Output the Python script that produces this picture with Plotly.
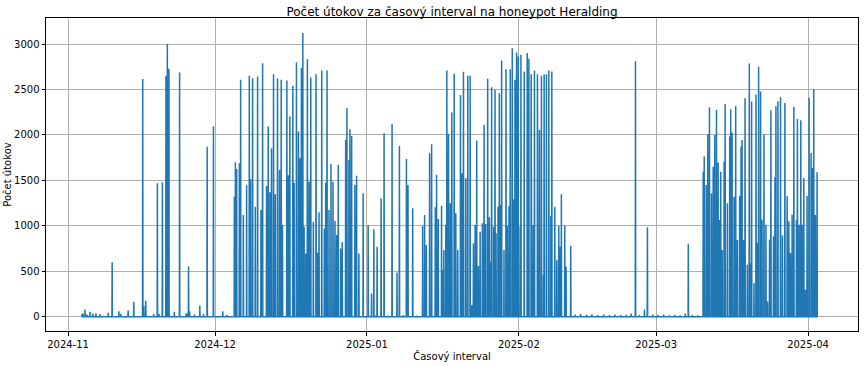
import pandas as pd
import plotly.graph_objects as go

# Time is given as days since 2024-11-01 (fractional), counts = attacks per interval
origin = "2024-11-01"

nov_day = [2.85, 3.05, 3.46, 3.86, 4.47, 5.08, 5.69, 6.5, 8.19, 9.0, 10.37, 10.77, 12.26, 13.41,
           15.24, 15.45, 15.85, 17.48, 18.23, 18.56, 19.25, 19.98, 20.26, 20.43, 20.59, 21.69,
           22.76, 24.08, 24.33, 24.59, 24.8, 25.81, 26.89, 27.64, 28.39, 29.67]
nov_count = [30, 35, 80, 25, 55, 35, 40, 30, 45, 600, 60, 30, 70, 165,
             2615, 120, 176, 30, 1468, 30, 1480, 2650, 3000, 2730, 2720, 55,
             2687, 35, 40, 554, 60, 25, 125, 30, 1869, 2096]

dec_day = [31.57, 33.94, 34.15, 34.41, 34.96, 35.22, 35.77, 36.44, 36.99, 37.26, 37.66, 38.21,
           38.68, 39.37, 39.7, 40.51, 40.85, 41.2, 41.52, 41.93, 42.28, 42.74, 43.15, 43.5,
           43.76, 44.65, 44.98, 45.26, 45.87, 46.14, 46.61, 47.01, 47.3, 47.62, 47.91, 48.17,
           48.52, 48.84, 49.19, 49.53, 50.06, 50.61, 50.96, 51.22, 51.77, 52.3, 52.58, 52.85,
           53.25, 53.66, 54.07, 54.47, 54.82, 55.14, 55.63, 55.96, 56.65, 56.91, 57.32, 57.52,
           57.87, 58.54, 58.88, 59.35, 60.22, 61.24]
dec_count = [62, 1321, 1700, 1626, 1688, 2606, 1119, 1446, 2650, 1516, 2624, 1211,
             2642, 1174, 2789, 1438, 2092, 1369, 1853, 2668, 1347, 2620, 1615, 2606,
             1009, 2598, 1556, 2202, 2540, 1475, 2800, 2037, 1743, 2734, 3120, 991,
             697, 2833, 1486, 2631, 1046, 2668, 705, 1149, 2708, 972, 1475, 2708,
             1174, 1681, 1486, 1053, 899, 1670, 752, 822, 1945, 2294, 1725, 2063,
             1989, 1450, 1552, 697, 1358, 1009]

jan_day = [61.93, 62.4, 63.07, 63.88, 64.49, 66.12, 67.13, 67.62, 69.05, 69.37, 70.33, 72.36,
           72.76, 73.11, 73.78, 74.19, 74.94, 75.2, 75.55, 76.22, 76.48, 76.69, 77.09, 77.3,
           77.64, 77.99, 78.31, 78.8, 79.13, 79.53, 80.08, 80.35, 80.69, 81.16, 81.57, 82.05,
           82.38, 82.72, 83.07, 83.39, 83.74, 84.09, 84.55, 84.9, 85.22, 85.63, 85.98, 86.24,
           86.44, 86.85, 87.13, 87.34, 87.74, 88.01, 88.27, 88.48, 88.96, 89.37, 89.63, 89.98,
           90.24, 90.65, 90.91, 91.2, 91.52, 91.73]
jan_count = [257, 962, 771, 1303, 2019, 2121, 488, 1879, 1736, 1450, 1193, 998,
             1119, 789, 1798, 1897, 1204, 1563, 1075, 1222, 514, 734, 1013, 2708,
             2011, 1248, 2246, 2672, 1138, 734, 2440, 1578, 2694, 1523, 2650, 2650,
             128, 807, 1009, 1938, 558, 936, 1028, 2110, 1020, 2617, 1094, 606,
             2525, 991, 2496, 918, 1211, 2459, 1229, 2819, 734, 2723, 1002, 1218,
             2723, 2954, 1292, 2606, 2907, 2679]

feb_day = [91.87, 92.28, 92.42, 93.09, 93.7, 93.9, 94.04, 94.51, 94.57, 94.92, 95.18, 95.79,
           95.93, 96.2, 96.6, 97.01, 97.15, 97.62, 98.11, 98.52, 98.72, 99.33, 99.74, 100.14,
           100.47, 100.67, 101.36, 101.63, 102.58]
feb_count = [2863, 990, 2881, 2697, 2900, 2367, 2837, 2668, 1100, 1009, 2708, 2668,
             807, 2055, 2650, 459, 2668, 2668, 2708, 1108, 2697, 1211, 624, 1002,
             771, 1347, 1002, 550, 778]

mar_day = [114.9, 115.79, 117.62, 118.23, 119.31, 121.54, 125.95, 126.57, 129.61, 129.82,
           130.22, 130.55, 130.89, 131.3, 131.65, 131.97, 132.32, 132.66, 132.93, 133.19,
           133.48, 133.88, 134.09, 134.55, 135.02, 135.22, 135.51, 135.91, 136.24, 136.59,
           137.05, 137.34, 137.54, 137.87, 138.15, 138.62, 139.02, 139.29, 139.49, 139.98,
           140.39, 140.65, 140.92, 141.32, 141.61, 142.01, 142.42, 142.74, 143.15, 143.43,
           143.96, 144.25, 144.45, 144.86, 145.39, 145.79, 146.28, 146.75, 147.09, 147.42,
           147.76, 148.11, 148.64, 148.84, 149.19, 149.53, 149.8, 150.14, 150.47, 150.81,
           151.22, 151.63, 151.89, 152.17, 152.5, 152.85]
mar_count = [37, 2810, 81, 984, 26, 26, 37, 804, 1596, 1762,
             1450, 2008, 2305, 1358, 1651, 2000, 2275, 1696, 1064, 1596,
             734, 1707, 2341, 1248, 1982, 2283, 2026, 1321, 2319, 844,
             1329, 1872, 1945, 844, 2404, 572, 2785, 591, 2367, 371,
             2444, 811, 2749, 2477, 1068, 2004, 1013, 169, 848, 2272,
             884, 1534, 2316, 2371, 2415, 895, 2352, 1325, 1050, 701,
             1123, 2308, 1068, 2176, 1013, 2162, 1013, 1527, 297, 1332,
             2408, 1802, 1637, 2499, 1119, 1589]

# low background activity between the bursts
base_day = [32.4, 62.8, 65.3, 68.4, 71.2, 103.5, 104.6, 105.8, 106.9, 108.1, 109.3, 110.5,
            111.6, 112.8, 113.9, 116.6, 120.4, 122.7, 123.8, 124.9, 127.4, 128.5]
base_count = [20, 15, 12, 18, 14, 25, 30, 22, 28, 18, 24, 20,
              26, 18, 22, 20, 18, 15, 22, 17, 20, 15]
baseline = 2

days = nov_day + dec_day + jan_day + feb_day + mar_day + base_day
counts = nov_count + dec_count + jan_count + feb_count + mar_count + base_count

# each reading is one interval; neighbouring intervals (1 h either side) sit at the baseline
pts = []
for d, c in zip(days, counts):
    pts.append((d - 0.042, baseline))
    pts.append((d, c))
    pts.append((d + 0.042, baseline))
pts.sort(key=lambda p: p[0])

t0 = pd.Timestamp(origin)
x = [t0 + pd.Timedelta(days=p[0]) for p in pts]
y = [p[1] for p in pts]

tick_dates = ["2024-11-01", "2024-12-01", "2025-01-01", "2025-02-01", "2025-03-01", "2025-04-01"]
tick_text = ["2024-11", "2024-12", "2025-01", "2025-02", "2025-03", "2025-04"]
y_ticks = [0, 500, 1000, 1500, 2000, 2500, 3000]

fig = go.Figure()
fig.add_trace(go.Scatter(x=x, y=y, mode="lines",
                         line=dict(color="#1f77b4", width=1.5), showlegend=False))

font = "DejaVu Sans, sans-serif"
fig.update_layout(
    width=864, height=366,
    margin=dict(l=46, r=6, t=18, b=35, autoexpand=False),
    paper_bgcolor="white", plot_bgcolor="white",
    font=dict(family=font, size=10, color="black"),
    title=dict(text="Počet útokov za časový interval na honeypot Heralding",
               x=0.5, xanchor="center", y=0.968, yanchor="middle",
               xref="paper", yref="container", font=dict(size=12, color="black")),
)
fig.update_xaxes(
    range=[t0 + pd.Timedelta(days=-4.5), t0 + pd.Timedelta(days=161.2)],
    tickvals=tick_dates, ticktext=tick_text,
    showgrid=True, gridcolor="#b0b0b0", gridwidth=0.8,
    showline=True, linecolor="black", linewidth=1, mirror=True,
    ticks="outside", ticklen=3.5, tickcolor="black",
    tickfont=dict(size=10), zeroline=False, automargin=False,
    title=dict(text="Časový interval", font=dict(size=10), standoff=4),
)
fig.update_yaxes(
    range=[-156, 3286],
    tickvals=y_ticks,
    showgrid=True, gridcolor="#b0b0b0", gridwidth=0.8,
    showline=True, linecolor="black", linewidth=1, mirror=True,
    ticks="outside", ticklen=3.5, tickcolor="black",
    tickfont=dict(size=10), zeroline=False, automargin=False,
    title=dict(text="Počet útokov", font=dict(size=10), standoff=0),
)

fig.write_html("out.html", config={"displayModeBar": False},
               post_script="document.body.style.margin='0';")
